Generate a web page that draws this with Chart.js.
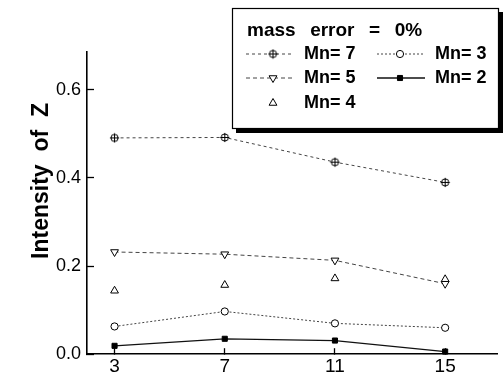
<!DOCTYPE html>
<html>
<head>
<meta charset="utf-8">
<script src="https://cdn.jsdelivr.net/npm/chart.js@4.4.1/dist/chart.umd.min.js"></script>
<style>
  html, body { margin: 0; padding: 0; background: #fff; }
  canvas { display: block; }
</style>
</head>
<body>
<canvas id="chart" width="503" height="378"></canvas>
<script>
// Datos
const xValues = [3, 7, 11, 15];
const mn7 = [0.491, 0.492, 0.436, 0.390];
const mn5 = [0.232, 0.227, 0.213, 0.160];
const mn4 = [0.144, 0.157, 0.172, 0.170];
const mn3 = [0.063, 0.097, 0.070, 0.060];
const mn2 = [0.019, 0.035, 0.031, 0.006];
const yTicks = [0, 0.2, 0.4, 0.6];
const yTitle = 'Intensity  of  Z';
const legendTitle = 'mass  error  =  0%';

const FONT = "'Liberation Sans', Arial, Helvetica, sans-serif";

// circulo con cruz para Mn=7
function crossCircle(r) {
  const c = document.createElement('canvas');
  const s = Math.ceil(r * 2 + 3);
  c.width = s; c.height = s;
  const g = c.getContext('2d');
  const m = s / 2;
  g.strokeStyle = '#000';
  g.lineWidth = 1;
  g.fillStyle = '#fff';
  g.beginPath();
  g.arc(m, m, r, 0, Math.PI * 2);
  g.fill();
  g.stroke();
  g.beginPath();
  g.moveTo(m - r - 1, m); g.lineTo(m + r + 1, m);
  g.moveTo(m, m - r - 1); g.lineTo(m, m + r + 1);
  g.stroke();
  return c;
}
const crossMarker = crossCircle(3.6);

function pts(ys) {
  return xValues.map((x, i) => ({ x: x, y: ys[i] }));
}

const datasets = [
  { label: 'Mn= 7', data: pts(mn7), borderColor: '#444', borderWidth: 1, borderDash: [3, 3],
    pointStyle: crossMarker, pointRadius: 4, showLine: true },
  { label: 'Mn= 3', data: pts(mn3), borderColor: '#444', borderWidth: 1, borderDash: [2, 2],
    pointStyle: 'circle', pointRadius: 3.6, pointBackgroundColor: '#fff', pointBorderColor: '#000', pointBorderWidth: 1, showLine: true },
  { label: 'Mn= 5', data: pts(mn5), borderColor: '#444', borderWidth: 1, borderDash: [4, 3],
    pointStyle: 'triangle', pointRotation: 180, pointRadius: 4.5, pointBackgroundColor: '#fff', pointBorderColor: '#000', pointBorderWidth: 1, showLine: true },
  { label: 'Mn= 2', data: pts(mn2), borderColor: '#111', borderWidth: 1.3, borderDash: [],
    pointStyle: 'rect', pointRadius: 3.6, pointBackgroundColor: '#000', pointBorderColor: '#000', pointBorderWidth: 1, showLine: true },
  { label: 'Mn= 4', data: pts(mn4), borderColor: '#000', borderWidth: 1,
    pointStyle: 'triangle', pointRadius: 4.5, pointBackgroundColor: '#fff', pointBorderColor: '#000', pointBorderWidth: 1, showLine: false }
];
datasets.forEach(d => { d.fill = false; d.tension = 0; d.clip = false; d.backgroundColor = '#fff'; });

// posiciones de la leyenda (fila, columna) por dataset
const legendSlots = [[0, 0], [0, 1], [1, 0], [1, 1], [2, 0]];

const boxLegend = {
  id: 'boxLegend',
  afterDraw(chart) {
    const ctx = chart.ctx;
    const L = 232, T = 8, R = 499, B = 129;
    ctx.save();
    // sombra
    ctx.fillStyle = '#000';
    ctx.fillRect(L + 4, T + 4, R - L, B - T);
    ctx.fillStyle = '#fff';
    ctx.fillRect(L, T, R - L, B - T);
    ctx.strokeStyle = '#000';
    ctx.lineWidth = 1.2;
    ctx.strokeRect(L + 0.5, T + 0.5, R - L - 1, B - T - 1);

    ctx.fillStyle = '#000';
    ctx.textBaseline = 'middle';
    ctx.textAlign = 'left';
    ctx.font = 'bold 19px ' + FONT;
    if ('wordSpacing' in ctx) ctx.wordSpacing = '2px';
    ctx.fillText(legendTitle, 247, 31);
    if ('wordSpacing' in ctx) ctx.wordSpacing = '0px';

    const rowsY = [54, 78, 103];
    const cols = [{ l0: 246, l1: 292, m: 273, t: 304 }, { l0: 377, l1: 425, m: 400, t: 435 }];
    legendSlots.forEach((slot, i) => {
      const ds = chart.data.datasets[i];
      const y = rowsY[slot[0]];
      const c = cols[slot[1]];
      if (ds.showLine) {
        ctx.save();
        ctx.strokeStyle = ds.borderColor;
        ctx.lineWidth = ds.borderWidth;
        ctx.setLineDash(ds.borderDash || []);
        ctx.beginPath();
        ctx.moveTo(c.l0, y); ctx.lineTo(c.l1, y);
        ctx.stroke();
        ctx.restore();
      }
      ctx.save();
      ctx.fillStyle = ds.pointBackgroundColor || '#fff';
      ctx.strokeStyle = ds.pointBorderColor || '#000';
      ctx.lineWidth = ds.pointBorderWidth || 1;
      ctx.setLineDash([]);
      Chart.helpers.drawPoint(ctx, {
        pointStyle: ds.pointStyle,
        rotation: ds.pointRotation || 0,
        radius: ds.pointRadius,
        borderWidth: ds.pointBorderWidth || 1
      }, c.m, y);
      ctx.restore();
      ctx.fillStyle = '#000';
      ctx.font = 'bold 18px ' + FONT;
      ctx.fillText(ds.label, c.t, y);
    });
    ctx.restore();
  },
  beforeDatasetsDraw(chart) {
    const ctx = chart.ctx;
    ctx.save();
    ctx.translate(42, 181);
    ctx.rotate(-Math.PI / 2);
    ctx.fillStyle = '#000';
    ctx.font = 'bold 23px ' + FONT;
    ctx.textAlign = 'center';
    ctx.textBaseline = 'middle';
    ctx.fillText(yTitle, 0, 0);
    ctx.restore();
  }
};

new Chart(document.getElementById('chart'), {
  type: 'line',
  data: { datasets: datasets },
  options: {
    responsive: false,
    animation: false,
    layout: { padding: { top: 52, right: 3, left: 0, bottom: 0 } },
    plugins: { legend: { display: false }, tooltip: { enabled: false } },
    scales: {
      x: {
        type: 'linear',
        min: 2,
        max: 16.9,
        afterBuildTicks: s => { s.ticks = xValues.map(v => ({ value: v })); },
        afterFit: s => { s.height = 19; },
        grid: { drawOnChartArea: false, drawTicks: true, tickLength: -6, tickWidth: 1.3, tickColor: '#000' },
        border: { display: true, color: '#000', width: 1.6 },
        ticks: { color: '#000', padding: 7, font: { family: FONT, size: 19 }, maxRotation: 0 }
      },
      y: {
        min: 0,
        max: 0.686,
        afterBuildTicks: s => { s.ticks = yTicks.map(v => ({ value: v })); },
        afterFit: s => { s.width = 87; },
        grid: { drawOnChartArea: false, drawTicks: true, tickLength: -7, tickWidth: 1.3, tickColor: '#000' },
        border: { display: true, color: '#000', width: 1.6 },
        ticks: { color: '#000', padding: 13, font: { family: FONT, size: 18 },
          callback: v => v.toFixed(1) }
      }
    }
  },
  plugins: [boxLegend]
});
</script>
</body>
</html>
